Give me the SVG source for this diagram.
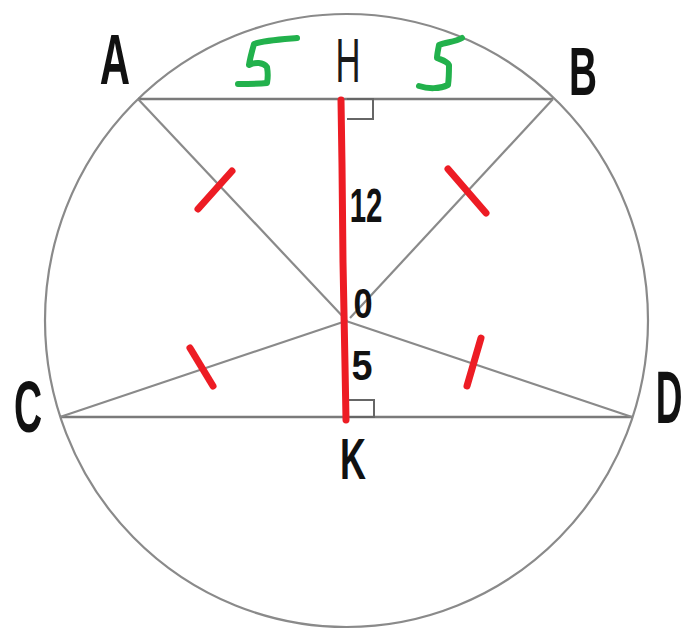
<svg xmlns="http://www.w3.org/2000/svg" width="686" height="631" viewBox="0 0 686 631">
<style>
.thin{fill:none;stroke:#8a8a8a;stroke-width:2.2}
.seg{fill:none;stroke:#7a7a7a;stroke-width:2.5}
.ra{fill:none;stroke:#666;stroke-width:2}
.red{fill:none;stroke:#ed1c24;stroke-width:7;stroke-linecap:round;stroke-linejoin:round}
.grn{fill:none;stroke:#22b14c;stroke-width:6;stroke-linecap:round;stroke-linejoin:round}
.lb{font-family:"Liberation Sans",Arial,sans-serif;font-weight:bold;fill:#111;text-anchor:middle}
.lr{font-family:"Liberation Sans",Arial,sans-serif;fill:#1a1a1a;text-anchor:middle}
</style>
<rect width="686" height="631" fill="#fff"/>
<ellipse class="thin" cx="346.5" cy="320.5" rx="301.5" ry="306.5"/>
<g id="connectors">
<line class="seg" x1="138" y1="99" x2="553" y2="99"/>
<line class="seg" x1="60" y1="417" x2="632" y2="417"/>
<line class="thin" x1="138" y1="99" x2="347" y2="321"/>
<line class="thin" x1="553" y1="99" x2="350" y2="318"/>
<line class="thin" x1="60" y1="417" x2="346" y2="321"/>
<line class="thin" x1="632" y1="417" x2="346" y2="321"/>
<polyline class="ra" points="347,99 373,99 373,119 347,119"/>
<polyline class="ra" points="347,417 374,417 374,400 347,400"/>
<polyline class="red" points="341,100 342,165 343,262 345,365 346,420"/>
<line class="red" x1="232" y1="171" x2="198" y2="209"/>
<line class="red" x1="448" y1="169" x2="486" y2="213"/>
<line class="red" x1="190" y1="348" x2="213" y2="386"/>
<line class="red" x1="481" y1="338" x2="467" y2="386"/>
<path class="grn" d="M297,38 C285,39 265,40 254,44 C252,51 250,58 249,65 C255,62 263,62 267,67 C268,73 268,78 267,83 C258,84 248,84 238,84"/>
<path class="grn" d="M462,38 C455,42 446,42 439,45 C438,50 437,55 437,58 C442,60 447,61 449,65 C449,71 449,78 448,85 C440,89 428,89 419,86"/>
</g>
<g id="A"><text class="lb" transform="translate(115,84) scale(0.6,1)" font-size="70">A</text></g>
<g id="B"><text class="lb" transform="translate(583,95) scale(0.57,1)" font-size="68">B</text></g>
<g id="C"><text class="lb" transform="translate(28,432) scale(0.54,1)" font-size="72">C</text></g>
<g id="D"><text class="lb" transform="translate(669,423) scale(0.5,1)" font-size="74">D</text></g>
<g id="H"><text class="lr" transform="translate(348,82) scale(0.55,1)" font-size="63">H</text></g>
<g id="K"><text class="lb" transform="translate(353,479) scale(0.62,1)" font-size="58">K</text></g>
<g id="O"><text class="lb" transform="translate(363,318) scale(0.8,1)" font-size="43">0</text></g>
<g id="labels">
<text class="lb" transform="translate(366,222) scale(0.6,1)" font-size="49">12</text>
<text class="lb" transform="translate(362,380) scale(0.9,1)" font-size="42">5</text>
</g>
</svg>
